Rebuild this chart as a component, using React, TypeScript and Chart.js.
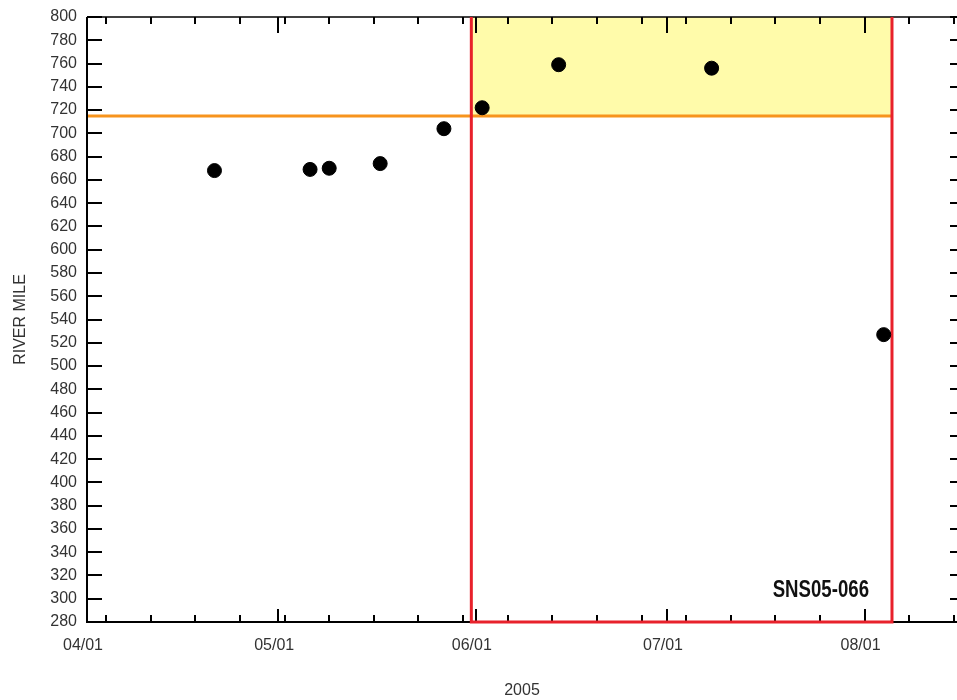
import React, { useEffect, useRef } from "react";
import { Chart, registerables } from "chart.js";

Chart.register(...registerables);

// ---- data ----
const sampleDates = [
  "2005-04-21",
  "2005-05-06",
  "2005-05-09",
  "2005-05-17",
  "2005-05-27",
  "2005-06-02",
  "2005-06-14",
  "2005-07-08",
  "2005-08-04",
];
const riverMiles = [668, 669, 670, 674, 704, 722, 759, 756, 527];

const monthTickDates = ["2005-04-01", "2005-05-01", "2005-06-01", "2005-07-01", "2005-08-01"];
const monthTickLabels = ["04/01", "05/01", "06/01", "07/01", "08/01"];
const weekTickStart = "2005-04-04";
const axisStartDate = "2005-04-01";
const axisEndDay = 136.5;

const thresholdMile = 715;
const windowStartDay = 60.3;
const windowEndDay = 126.3;
const stationLabel = "SNS05-066";
const xTitle = "2005";
const yTitle = "RIVER MILE";
const yMin = 280;
const yMax = 800;
const yStep = 20;

const DAY = 86400000;
const dayOf = (s: string) => (Date.parse(s + "T00:00:00Z") - Date.parse(axisStartDate + "T00:00:00Z")) / DAY;

const monthDays = monthTickDates.map(dayOf);
const weekDays: number[] = [];
for (let d = dayOf(weekTickStart); d <= axisEndDay; d += 7) weekDays.push(d);

const points = sampleDates.map((d, i) => ({ x: dayOf(d), y: riverMiles[i] }));

const overlayPlugin = {
  id: "overlay",
  beforeDatasetsDraw(chart: any) {
    const { ctx, chartArea: a, scales } = chart;
    const x = scales.x;
    const y = scales.y;
    const xl = x.getPixelForValue(windowStartDay);
    const xr = x.getPixelForValue(windowEndDay);
    const yThr = y.getPixelForValue(thresholdMile);
    ctx.save();
    // yellow zone
    ctx.fillStyle = "#FFFBAA";
    ctx.fillRect(xl, a.top, xr - xl, yThr - a.top);
    // orange threshold
    ctx.strokeStyle = "#F7941D";
    ctx.lineWidth = 3;
    ctx.beginPath();
    ctx.moveTo(a.left, yThr);
    ctx.lineTo(xr, yThr);
    ctx.stroke();

    // axes
    ctx.strokeStyle = "#000";
    ctx.lineWidth = 2;
    ctx.beginPath();
    ctx.moveTo(a.left, a.top);
    ctx.lineTo(a.left, a.bottom);
    ctx.lineTo(a.right, a.bottom);
    ctx.stroke();
    ctx.lineWidth = 1.5;
    ctx.beginPath();
    ctx.moveTo(a.left, a.top);
    ctx.lineTo(a.right, a.top);
    ctx.stroke();

    // y ticks (inward)
    ctx.lineWidth = 2;
    ctx.beginPath();
    for (let v = yMin; v <= yMax; v += yStep) {
      const py = Math.round(y.getPixelForValue(v));
      ctx.moveTo(a.left, py);
      ctx.lineTo(a.left + 15, py);
      ctx.moveTo(a.right, py);
      ctx.lineTo(a.right - 7, py);
    }
    ctx.stroke();
    // x ticks (inward)
    ctx.beginPath();
    for (const d of weekDays) {
      const px = Math.round(x.getPixelForValue(d));
      ctx.moveTo(px, a.bottom);
      ctx.lineTo(px, a.bottom - 7);
      ctx.moveTo(px, a.top);
      ctx.lineTo(px, a.top + 7);
    }
    for (const d of monthDays) {
      const px = Math.round(x.getPixelForValue(d));
      ctx.moveTo(px, a.bottom);
      ctx.lineTo(px, a.bottom - 13);
      ctx.moveTo(px, a.top);
      ctx.lineTo(px, a.top + 16);
    }
    ctx.stroke();

    // red window
    ctx.strokeStyle = "#E8212B";
    ctx.lineWidth = 3;
    ctx.beginPath();
    ctx.moveTo(xl, a.top);
    ctx.lineTo(xl, a.bottom);
    ctx.lineTo(xr, a.bottom);
    ctx.lineTo(xr, a.top);
    ctx.stroke();
    ctx.restore();
  },
  afterDatasetsDraw(chart: any) {
    const { ctx, chartArea: a, scales } = chart;
    const xr = scales.x.getPixelForValue(windowEndDay);
    ctx.save();
    ctx.fillStyle = "#111";
    ctx.font = "bold 23px 'Liberation Sans', Arial, sans-serif";
    ctx.textAlign = "right";
    ctx.textBaseline = "middle";
    ctx.translate(xr - 23, a.bottom - 31);
    ctx.scale(0.81, 1);
    ctx.fillText(stationLabel, 0, 0);
    ctx.restore();
  },
};

export default function App() {
  const ref = useRef<HTMLCanvasElement>(null);
  useEffect(() => {
    if (!ref.current) return;
    const font = { family: "'Liberation Sans', Arial, sans-serif", size: 16 };
    const chart = new Chart(ref.current, {
      type: "scatter",
      data: {
        datasets: [
          {
            data: points,
            backgroundColor: "#000",
            borderColor: "#000",
            pointRadius: 7,
            pointHoverRadius: 7,
          },
        ],
      },
      options: {
        animation: false,
        responsive: false,
        devicePixelRatio: 1,
        layout: { autoPadding: false, padding: { top: 17, left: 0, right: 0, bottom: 0 } },
        plugins: { legend: { display: false }, tooltip: { enabled: false } },
        scales: {
          x: {
            type: "linear",
            min: 0,
            max: axisEndDay,
            border: { display: false },
            grid: { display: false, drawTicks: false },
            afterBuildTicks: (s: any) => {
              s.ticks = monthDays.map((v) => ({ value: v }));
            },
            afterFit: (s: any) => {
              s.height = 78;
              s.paddingLeft = 0;
              s.paddingRight = 0;
            },
            ticks: {
              autoSkip: false,
              maxRotation: 0,
              padding: 14,
              labelOffset: -4,
              color: "#333",
              font,
              callback: (v: any) => {
                const i = monthDays.indexOf(Number(v));
                return i >= 0 ? monthTickLabels[i] : "";
              },
            },
            title: {
              display: true,
              text: xTitle,
              color: "#333",
              font,
              padding: { top: 0, bottom: 0 },
            },
          },
          y: {
            min: yMin,
            max: yMax,
            border: { display: false },
            grid: { display: false, drawTicks: false },
            afterFit: (s: any) => {
              s.width = 87;
              s.paddingTop = 0;
              s.paddingBottom = 0;
            },
            ticks: { stepSize: yStep, padding: 10, color: "#333", font },
            title: {
              display: true,
              text: yTitle,
              color: "#333",
              font,
              padding: { top: 11, bottom: 0 },
            },
          },
        },
      },
      plugins: [overlayPlugin],
    });
    return () => chart.destroy();
  }, []);
  return (
    <div style={{ position: "fixed", left: 0, top: 0, width: 957, height: 700, background: "#fff" }}>
      <canvas ref={ref} width={957} height={700} style={{ width: 957, height: 700, display: "block" }} />
    </div>
  );
}
